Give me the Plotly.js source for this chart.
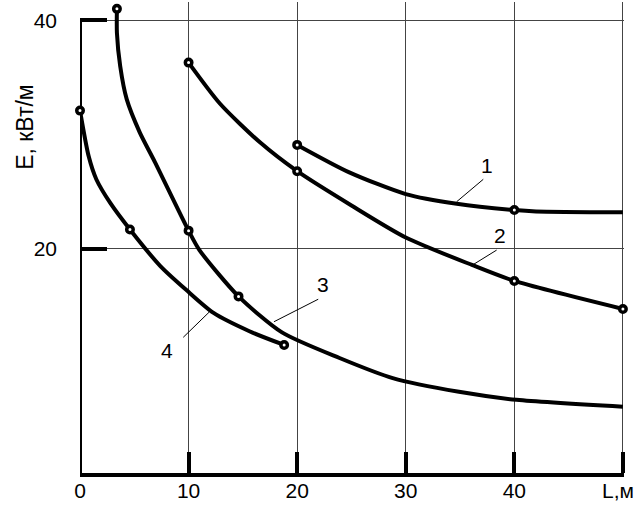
<!DOCTYPE html>
<html>
<head>
<meta charset="utf-8">
<script src="https://cdn.plot.ly/plotly-3.0.1.min.js"></script>
<style>html,body{margin:0;padding:0;background:#fff;}#chart{width:638px;height:505px;}</style>
</head>
<body>
<div id="chart"></div>
<script>
// Curve data (L, m ; E, kW/m)
const curve1X = [20, 24.8, 30, 34.7, 40, 42, 50];
const curve1Y = [29.1, 26.7, 24.8, 23.95, 23.4, 23.28, 23.2];
const curve2X = [10, 12.9, 16.6, 20, 25, 30, 36.1, 40, 50];
const curve2Y = [36.3, 32.7, 29.3, 26.8, 23.8, 21.0, 18.6, 17.2, 14.75];
const curve3X = [3.4, 3.4, 3.7, 4.3, 5.5, 6.9, 10, 11, 14.6, 18.6, 23.9, 28.8, 34.9, 40.2, 50];
const curve3Y = [41.0, 38.9, 36.0, 33.1, 30.2, 27.6, 21.6, 19.9, 15.85, 12.7, 10.46, 8.7, 7.5, 6.8, 6.2];
const curve4X = [0, 0.8, 1.5, 2.8, 4.6, 7.4, 9.8, 12.3, 15.6, 18.8];
const curve4Y = [32.1, 28.1, 26.1, 24.0, 21.7, 18.5, 16.4, 14.4, 12.8, 11.6];
// Measured points (markers)
const mark1X = [20, 40];          const mark1Y = [29.1, 23.4];
const mark2X = [10, 20, 40, 50];  const mark2Y = [36.3, 26.8, 17.2, 14.75];
const mark3X = [3.4, 10, 14.6];   const mark3Y = [41.0, 21.6, 15.85];
const mark4X = [0, 4.6, 18.8];    const mark4Y = [32.1, 21.7, 11.6];
// Ticks and labels
const xTickVals = [0, 10, 20, 30, 40, 50];
const xTickText = ['0', '10', '20', '30', '40', ''];
const yTickVals = [20, 40];
const yTickText = ['20', '40'];
const curveNames = ['1', '2', '3', '4'];
const xTitle = 'L,м';
const yTitle = 'E, кВт/м';

const FONT = 'Liberation Sans, Arial, sans-serif';
const curves = [[curve1X, curve1Y], [curve2X, curve2Y], [curve3X, curve3Y], [curve4X, curve4Y]];
const marks = [[mark1X, mark1Y], [mark2X, mark2Y], [mark3X, mark3Y], [mark4X, mark4Y]];

const traces = [];
curves.forEach((c, i) => {
  traces.push({x: c[0], y: c[1], mode: 'lines', name: curveNames[i],
    line: {color: '#000', width: 4, shape: 'spline', smoothing: 0.7}, hoverinfo: 'skip'});
});
marks.forEach((m, i) => {
  traces.push({x: m[0], y: m[1], mode: 'markers', name: curveNames[i], cliponaxis: false,
    marker: {symbol: 'circle', size: 6.5, color: '#fff', line: {color: '#000', width: 3.5}}});
});

const yMin = 0.4, yMax = 41.6;
const layout = {
  width: 638, height: 505,
  margin: {l: 80, r: 14, t: 2, b: 32},
  paper_bgcolor: '#fff', plot_bgcolor: '#fff',
  showlegend: false,
  font: {family: FONT, size: 21, color: '#000'},
  xaxis: {range: [0, 50.1], tickvals: xTickVals, ticktext: xTickText,
    ticks: 'inside', ticklen: 21, tickwidth: 4, tickcolor: '#000',
    showline: true, linewidth: 4, linecolor: '#000',
    showgrid: true, gridcolor: '#444', gridwidth: 1, zeroline: false,
    ticklabelstandoff: -4, tickfont: {family: FONT, size: 21, color: '#000'}},
  yaxis: {range: [yMin, yMax], tickvals: yTickVals, ticktext: yTickText,
    ticks: 'inside', ticklen: 27, tickwidth: 4, tickcolor: '#000',
    showline: false, showgrid: true, gridcolor: '#444', gridwidth: 1, zeroline: false,
    ticklabelstandoff: 22, tickfont: {family: FONT, size: 21, color: '#000'}},
  shapes: [
    {type: 'line', xref: 'x', yref: 'y', x0: 0, x1: 0, y0: yMin, y1: 40, line: {color: '#000', width: 4}, layer: 'below'},
    {type: 'line', xref: 'x', yref: 'y', x0: 34.69, y0: 24.13, x1: 37.14, y1: 26.09, line: {color: '#000', width: 1}},
    {type: 'line', xref: 'x', yref: 'y', x0: 36.16, y0: 18.6, x1: 38.37, y1: 19.9, line: {color: '#000', width: 1}},
    {type: 'line', xref: 'x', yref: 'y', x0: 17.86, y0: 13.63, x1: 21.94, y1: 15.6, line: {color: '#000', width: 1}},
    {type: 'line', xref: 'x', yref: 'y', x0: 9.51, y0: 12.27, x1: 11.88, y1: 14.46, line: {color: '#000', width: 1}}
  ],
  annotations: [
    {xref: 'x', yref: 'y', x: 37.48, y: 27.34, text: curveNames[0], showarrow: false, font: {size: 21}},
    {xref: 'x', yref: 'y', x: 38.67, y: 21.2, text: curveNames[1], showarrow: false, font: {size: 21}},
    {xref: 'x', yref: 'y', x: 22.35, y: 16.93, text: curveNames[2], showarrow: false, font: {size: 21}},
    {xref: 'x', yref: 'y', x: 7.98, y: 11.1, text: curveNames[3], showarrow: false, font: {size: 21}},
    {xref: 'paper', yref: 'paper', x: 1, y: -0.038, xanchor: 'right', yanchor: 'middle', xshift: 12,
      text: xTitle, showarrow: false, font: {size: 21}},
    {xref: 'paper', yref: 'paper', x: -0.101, y: 0.735, xanchor: 'center', yanchor: 'middle',
      textangle: -90, text: yTitle, showarrow: false, font: {size: 23}}
  ]
};

Plotly.newPlot('chart', traces, layout, {staticPlot: true, displayModeBar: false});
</script>
</body>
</html>
